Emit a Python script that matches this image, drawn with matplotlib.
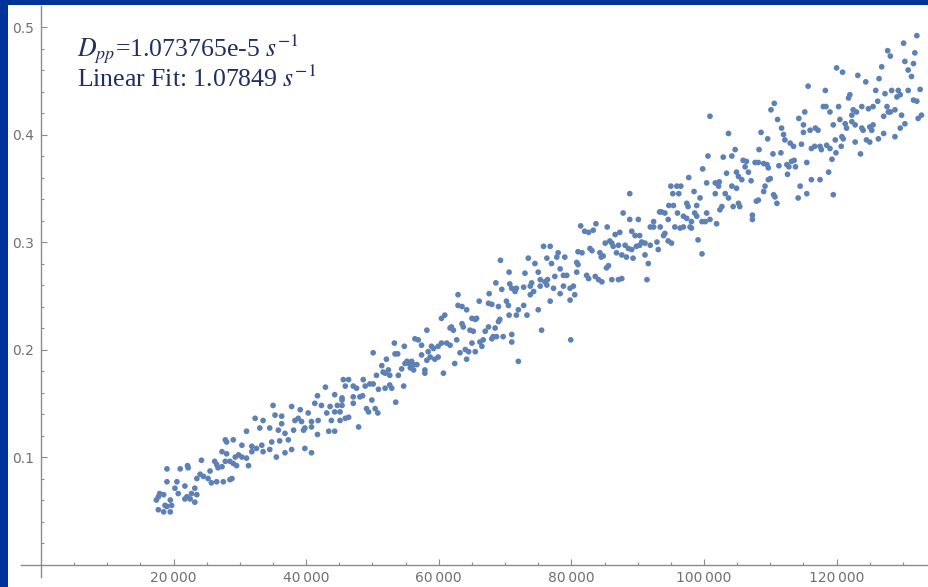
import numpy as np
import matplotlib
matplotlib.use("Agg")
from matplotlib import pyplot as plt
from matplotlib.ticker import FixedLocator, FuncFormatter

# 数据: (时间, 方差) 按区段读取
seg_a = [(42900, 0.165), (41700, 0.157), (41300, 0.150), (35000, 0.148), (37800, 0.147), (39100, 0.144),
         (40300, 0.141), (42300, 0.148), (43600, 0.147), (44700, 0.148), (45400, 0.153), (44300, 0.142),
         (43100, 0.141), (41800, 0.134), (43800, 0.134), (45100, 0.134), (32300, 0.136), (33500, 0.134),
         (35300, 0.139), (36300, 0.138), (36300, 0.131), (38300, 0.134), (38800, 0.136), (39300, 0.133),
         (40800, 0.133), (39800, 0.127), (40800, 0.128), (31000, 0.124), (33000, 0.127), (34500, 0.127),
         (35800, 0.125), (36800, 0.122), (38100, 0.125), (39600, 0.125), (41700, 0.121), (43400, 0.124),
         (44300, 0.124), (27800, 0.116), (29000, 0.116), (28000, 0.114), (30300, 0.111), (31800, 0.110),
         (33300, 0.111), (34800, 0.114), (36000, 0.115), (37300, 0.116), (33500, 0.105), (34500, 0.107),
         (35500, 0.100), (36800, 0.104), (37800, 0.107), (39800, 0.108), (40800, 0.104), (27300, 0.105),
         (28000, 0.103), (29300, 0.100), (30300, 0.100), (31000, 0.099), (31800, 0.105), (32500, 0.108),
         (29800, 0.102), (24200, 0.097), (26200, 0.096), (26500, 0.093), (27800, 0.096), (28500, 0.096),
         (29000, 0.094), (29500, 0.092), (31300, 0.092), (19000, 0.089), (21000, 0.089), (22100, 0.092),
         (22200, 0.090), (24000, 0.084), (25500, 0.087), (26700, 0.090), (27300, 0.091), (23500, 0.080),
         (24500, 0.082), (25200, 0.080), (25700, 0.076), (26500, 0.077), (27500, 0.077), (28500, 0.079),
         (28800, 0.080), (19000, 0.077), (20500, 0.077), (21700, 0.073), (23200, 0.071), (20200, 0.071),
         (22700, 0.066), (23500, 0.065), (17900, 0.066), (17700, 0.063), (18500, 0.065), (20700, 0.066),
         (22000, 0.063), (22500, 0.061), (19500, 0.060), (17400, 0.060), (18700, 0.055), (19700, 0.055),
         (21700, 0.061), (23200, 0.058), (17700, 0.051), (18500, 0.049), (19500, 0.049), (19000, 0.054)]

seg_b = [(68600, 0.262), (70700, 0.261), (71700, 0.257), (72800, 0.258), (74000, 0.262), (71000, 0.257),
         (69500, 0.256), (71500, 0.254), (73800, 0.251), (62900, 0.251), (67600, 0.252), (66100, 0.245),
         (67500, 0.243), (68000, 0.242), (69000, 0.240), (70200, 0.245), (70500, 0.241), (72800, 0.241),
         (72000, 0.237), (73300, 0.232), (71700, 0.232), (70600, 0.232), (62900, 0.241), (63500, 0.240),
         (64200, 0.237), (60900, 0.232), (60400, 0.229), (65000, 0.229), (65500, 0.228), (65700, 0.229),
         (69200, 0.228), (69000, 0.226), (63500, 0.224), (63700, 0.221), (61900, 0.221), (62200, 0.218),
         (61700, 0.220), (58200, 0.218), (64700, 0.218), (65200, 0.217), (67500, 0.221), (67000, 0.217),
         (68500, 0.220), (68200, 0.212), (68000, 0.210), (68700, 0.212), (69700, 0.212), (71000, 0.214),
         (71000, 0.207), (56400, 0.210), (56900, 0.209), (57400, 0.204), (53300, 0.206), (54800, 0.203),
         (58900, 0.203), (59200, 0.201), (59900, 0.203), (60400, 0.206), (61200, 0.206), (61700, 0.204),
         (62700, 0.209), (65000, 0.206), (66200, 0.207), (66700, 0.209), (66500, 0.203), (63200, 0.197),
         (64000, 0.200), (64500, 0.198), (65500, 0.198), (64200, 0.191), (50100, 0.197), (53400, 0.196),
         (53800, 0.196), (57400, 0.195), (58400, 0.198), (58700, 0.193), (59400, 0.191), (59900, 0.193),
         (58200, 0.190), (52100, 0.191), (51400, 0.185), (51600, 0.179), (50600, 0.176), (51900, 0.178),
         (52600, 0.176), (52400, 0.181), (53900, 0.176), (54400, 0.182), (54900, 0.187), (55200, 0.189),
         (55500, 0.187), (55900, 0.189), (56200, 0.186), (55700, 0.183), (56200, 0.181), (56700, 0.186),
         (57900, 0.181), (57900, 0.178), (60700, 0.178), (62400, 0.187), (72000, 0.189), (45600, 0.172),
         (46400, 0.172), (47100, 0.166), (47600, 0.164), (48600, 0.172), (48900, 0.166), (49600, 0.168),
         (50100, 0.168), (50900, 0.163), (51900, 0.164), (52600, 0.167), (52900, 0.164), (54700, 0.166),
         (45900, 0.166), (44300, 0.158), (45400, 0.155), (47100, 0.156), (48100, 0.156), (48500, 0.157),
         (49900, 0.153), (53500, 0.151), (45100, 0.142), (45400, 0.148), (47100, 0.150), (49100, 0.145),
         (49400, 0.142), (50400, 0.145), (50800, 0.141), (46400, 0.137), (45900, 0.136), (47900, 0.128)]

seg_c = [(95000, 0.352), (95900, 0.352), (96500, 0.352), (100400, 0.355), (88800, 0.345), (95300, 0.345),
         (96200, 0.345), (98500, 0.347), (99400, 0.341), (101700, 0.345), (94700, 0.334), (95400, 0.334),
         (97400, 0.336), (97600, 0.333), (98900, 0.334), (87800, 0.327), (93300, 0.328), (93600, 0.328),
         (94100, 0.327), (96000, 0.327), (96900, 0.324), (97400, 0.322), (98600, 0.327), (98900, 0.324),
         (100400, 0.327), (88800, 0.321), (90100, 0.321), (92400, 0.319), (94600, 0.321), (98100, 0.319),
         (99700, 0.319), (100200, 0.319), (100900, 0.321), (81400, 0.315), (83700, 0.317), (85400, 0.314),
         (82000, 0.310), (82600, 0.309), (83300, 0.311), (86600, 0.307), (87300, 0.309), (89100, 0.310),
         (89600, 0.306), (90300, 0.306), (91900, 0.314), (92400, 0.314), (93400, 0.314), (94100, 0.308),
         (93900, 0.306), (95600, 0.314), (96400, 0.313), (96900, 0.314), (97900, 0.314), (98100, 0.313),
         (99100, 0.302), (75800, 0.296), (76800, 0.296), (78000, 0.290), (77800, 0.286), (79000, 0.286),
         (81000, 0.291), (81600, 0.290), (82800, 0.294), (83100, 0.292), (84300, 0.290), (85100, 0.299),
         (85800, 0.301), (86100, 0.299), (86300, 0.296), (87100, 0.297), (88100, 0.297), (88600, 0.294),
         (89100, 0.293), (89800, 0.296), (90300, 0.297), (90600, 0.300), (91100, 0.299), (91900, 0.297),
         (92900, 0.300), (93100, 0.293), (94600, 0.301), (95100, 0.299), (99700, 0.289), (73500, 0.285),
         (74500, 0.280), (76300, 0.285), (77000, 0.280), (73000, 0.271), (75000, 0.272), (75300, 0.265),
         (76000, 0.263), (76400, 0.265), (77500, 0.268), (78300, 0.275), (78800, 0.269), (79300, 0.269),
         (80800, 0.281), (81000, 0.279), (80800, 0.272), (82300, 0.269), (82600, 0.266), (83600, 0.268),
         (84100, 0.265), (84600, 0.263), (85300, 0.276), (85600, 0.278), (86100, 0.265), (87100, 0.265),
         (87600, 0.266), (88300, 0.286), (89300, 0.285), (86800, 0.290), (87600, 0.288), (84500, 0.286),
         (84800, 0.287), (91600, 0.280), (91100, 0.288), (91400, 0.265), (73800, 0.259), (74300, 0.254),
         (75300, 0.259), (76300, 0.260), (77300, 0.257), (78300, 0.252), (78800, 0.259), (79800, 0.257),
         (80300, 0.259), (80500, 0.251), (79800, 0.246), (76800, 0.245), (75000, 0.237), (75500, 0.218),
         (79900, 0.209)]

seg_d = [(120000, 0.462), (120900, 0.458), (123200, 0.455), (124400, 0.449), (126400, 0.452), (126800, 0.463),
         (130300, 0.468), (130800, 0.460), (131600, 0.466), (131300, 0.454), (115700, 0.445), (118300, 0.441),
         (122000, 0.437), (121800, 0.434), (125900, 0.441), (127300, 0.438), (128300, 0.441), (129300, 0.441),
         (129600, 0.437), (129100, 0.435), (130800, 0.441), (132600, 0.442), (131600, 0.432), (132100, 0.431),
         (110600, 0.429), (110100, 0.423), (115200, 0.421), (118000, 0.426), (118400, 0.426), (119000, 0.421),
         (120300, 0.426), (122500, 0.423), (123800, 0.426), (124800, 0.424), (125500, 0.426), (126200, 0.431),
         (127600, 0.426), (127800, 0.421), (128800, 0.423), (129800, 0.418), (132300, 0.415), (132800, 0.418),
         (111100, 0.414), (114300, 0.415), (115000, 0.409), (116800, 0.406), (116000, 0.404), (117200, 0.404),
         (119500, 0.409), (120500, 0.414), (121300, 0.410), (121500, 0.406), (122300, 0.412), (122800, 0.409),
         (122300, 0.418), (123000, 0.421), (123800, 0.406), (124000, 0.404), (125000, 0.407), (125300, 0.404),
         (125500, 0.409), (127100, 0.417), (128100, 0.421), (130300, 0.410), (129600, 0.406), (103700, 0.401),
         (108600, 0.402), (109600, 0.396), (111700, 0.406), (112000, 0.400), (112200, 0.395), (115000, 0.402),
         (113000, 0.392), (113500, 0.389), (114700, 0.391), (116200, 0.387), (116700, 0.389), (117500, 0.389),
         (117700, 0.386), (118500, 0.390), (119000, 0.387), (119800, 0.395), (120800, 0.398), (121000, 0.396),
         (120700, 0.389), (122800, 0.393), (124500, 0.395), (125000, 0.393), (126300, 0.396), (127100, 0.401),
         (128800, 0.398), (119300, 0.377), (119900, 0.383), (102900, 0.379), (104200, 0.380), (104700, 0.386),
         (108300, 0.386), (110400, 0.382), (111600, 0.383), (105900, 0.376), (106400, 0.375), (106200, 0.370),
         (106700, 0.365), (107700, 0.374), (108200, 0.374), (109000, 0.373), (109500, 0.372), (109700, 0.369),
         (111300, 0.371), (112500, 0.372), (112800, 0.370), (113200, 0.375), (113600, 0.376), (113800, 0.370),
         (115500, 0.374), (112600, 0.363), (118800, 0.365), (123600, 0.382), (103400, 0.364), (104900, 0.365),
         (105200, 0.361), (105700, 0.358), (107100, 0.357), (101700, 0.355), (102200, 0.352), (102300, 0.356),
         (104200, 0.352), (104900, 0.350), (109200, 0.352), (109000, 0.347), (110000, 0.359), (109700, 0.358),
         (110500, 0.344), (110700, 0.342), (111000, 0.336), (114500, 0.352), (114200, 0.341), (115500, 0.345),
         (116200, 0.358), (117500, 0.358), (119500, 0.344), (103200, 0.345), (103700, 0.341), (102700, 0.333),
         (102400, 0.330), (104400, 0.333), (105200, 0.336), (105400, 0.333), (107900, 0.338), (108200, 0.339),
         (107300, 0.325), (107300, 0.321), (101900, 0.317)]

seg_e = [(132100, 0.492), (130100, 0.485), (127700, 0.478), (128100, 0.473), (131800, 0.476),
         (69300, 0.283), (70600, 0.272), (100900, 0.417), (100600, 0.380), (99800, 0.368), (97700, 0.360)]

x_major = [20000, 40000, 60000, 80000, 100000, 120000]
y_major = [0.1, 0.2, 0.3, 0.4, 0.5]

plt.rcParams['mathtext.fontset'] = 'stix'

fig = plt.figure(figsize=(9.29, 5.87), dpi=100, facecolor='#003399')
ax = fig.add_axes([8 / 929, 0, 921 / 929, 582 / 587])
ax.set_facecolor('white')

pts = np.array(seg_a + seg_b + seg_c + seg_d + seg_e)
ax.scatter(pts[:, 0], pts[:, 1], s=17, color='#5E81B5', edgecolors='none', zorder=3)

ax.set_xlim(-4977, 133937)
ax.set_ylim(-0.0209, 0.5205)

# 坐标轴交于原点
axis_gray = '#8c8c8c'
for side in ['top', 'right']:
    ax.spines[side].set_visible(False)
ax.spines['left'].set_position(('data', 0))
ax.spines['bottom'].set_position(('data', 0))
ax.spines['left'].set_bounds(-0.0116, 0.52)
ax.spines['bottom'].set_bounds(-3000, 134000)
for side in ['left', 'bottom']:
    ax.spines[side].set_color(axis_gray)
    ax.spines[side].set_linewidth(1.0)

ax.xaxis.set_major_locator(FixedLocator(x_major))
ax.xaxis.set_minor_locator(FixedLocator([v for v in range(5000, 134000, 5000) if v % 20000]))
ax.yaxis.set_major_locator(FixedLocator(y_major))
ax.yaxis.set_minor_locator(FixedLocator([k / 50 for k in range(1, 26) if k % 5]))

ax.xaxis.set_major_formatter(FuncFormatter(lambda v, p: "{:,}".format(int(v)).replace(",", "\u2009")))
ax.yaxis.set_major_formatter(FuncFormatter(lambda v, p: "{:.1f}".format(v)))

ax.tick_params(which='both', direction='in', color=axis_gray, width=0.8)
ax.tick_params(which='major', length=4.5, labelsize=10, labelcolor='#707070', pad=5)
ax.tick_params(which='minor', length=2.5)

txt_color = '#1F2F5F'
fig.text(77 / 929, 1 - 56 / 587, r'$D_{pp}$=1.073765e-5 $s^{-1}$',
         family='Liberation Serif', size=18.5, color=txt_color, va='baseline')
fig.text(77 / 929, 1 - 87 / 587, r'Linear Fit: 1.07849 $s^{-1}$',
         family='Liberation Serif', size=18.5, color=txt_color, va='baseline')

plt.savefig("out.png", dpi=100, facecolor=fig.get_facecolor())
